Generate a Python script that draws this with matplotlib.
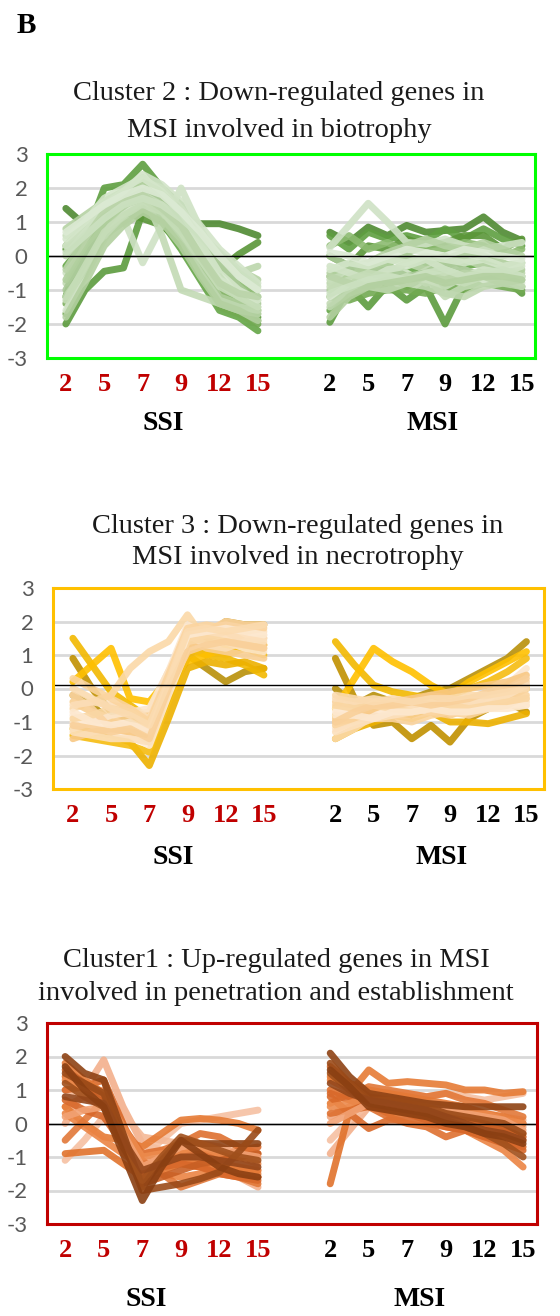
import matplotlib.pyplot as plt
import numpy as np

# sampling points along each infection series; only the day points are labelled
days = ['2', '', '5', '', '7', '', '9', '', '12', '', '15']
groups = ['SSI', 'MSI']

# ---- Cluster 2 : down-regulated in MSI, biotrophy (green) ----
c2_ssi = [
    [-2.0, -1.0, -0.45, -0.35, 1.3, 1.0, 0.3, -0.6, -1.2, -1.5, -1.8],
    [1.4, 0.9, 1.1, 1.5, 1.8, 1.4, 1.0, 0.95, 0.95, 0.8, 0.6],
    [-1.2, 0.5, 2.0, 2.1, 2.7, 2.0, 1.5, 0.4, -0.6, -1.3, -1.9],
    [-0.3, 0.4, 0.9, 1.2, 1.4, 1.0, 0.2, -0.7, -1.6, -1.8, -2.2],
    [0.2, 0.6, 1.0, 1.3, 1.1, 0.9, 0.4, -0.1, -0.4, 0.05, 0.4],
    [-1.4, -0.2, 1.2, 1.8, 2.3, 1.7, 0.8, -0.2, -1.0, -1.4, -1.6],
    [0.3, 0.9, 1.6, 1.9, 2.2, 1.8, 1.2, 0.3, -0.3, -0.8, -1.2],
    [-1.7, -0.5, 0.8, 1.4, 1.6, 1.2, 0.4, -0.6, -1.5, -1.7, -2.0],
    [-0.5, 0.2, 0.8, 1.1, -0.2, 0.9, 2.0, 0.8, -0.2, -0.6, -1.0],
    [-0.8, 0.0, 0.9, 1.4, 1.9, 0.6, -1.0, -1.2, -1.4, -1.6, -1.7],
    [0.8, 1.2, 1.6, 1.9, 2.2, 2.0, 1.4, 0.6, 0.1, -0.4, -0.7],
    [-1.6, -0.6, 0.5, 1.2, 1.6, 1.4, 0.9, 0.1, -0.7, -1.0, -1.3],
    [0.0, 0.7, 1.3, 1.7, 2.0, 1.7, 1.0, 0.3, -0.4, -0.5, -0.3],
    [-1.0, 0.0, 1.0, 1.6, 1.9, 1.6, 1.2, 0.5, -0.2, -0.9, -1.4],
    [0.6, 1.0, 1.4, 1.6, 1.8, 1.5, 0.8, 0.0, -0.8, -1.2, -1.5],
    [-0.7, 0.3, 1.0, 1.5, 1.7, 1.3, 0.6, -0.3, -1.2, -1.4, -1.7],
    [0.3, 0.8, 1.5, 1.9, 2.4, 2.1, 1.6, 0.9, 0.2, -0.3, -0.8],
    [-1.2, -0.4, 0.6, 1.0, 1.4, 1.1, 0.5, -0.5, -1.3, -1.5, -1.6],
    [-1.3, -0.3, 0.7, 1.2, 1.5, 1.3, 0.7, -0.1, -0.9, -1.2, -1.5],
    [0.5, 1.0, 1.7, 2.0, 2.3, 1.9, 1.3, 0.4, -0.5, -1.0, -1.3],
    [-0.4, 0.5, 1.3, 1.6, 1.8, 1.4, 0.9, 0.0, -0.8, -1.1, -1.2],
    [0.1, 0.6, 1.1, 1.5, 1.7, 1.5, 1.1, 0.6, 0.0, -0.5, -0.9],
    [-1.8, -0.8, 0.3, 0.9, 1.3, 1.0, 0.3, -0.6, -1.4, -1.6, -1.9],
    [0.7, 1.1, 1.5, 1.8, 2.0, 1.8, 1.3, 0.7, 0.0, -0.6, -1.0],
]
c2_msi = [
    [-1.95, -0.9, -1.5, -0.85, -1.3, -0.9, -2.0, -0.85, -0.8, -0.6, -1.1],
    [0.7, 0.4, 0.85, 0.6, 0.9, 0.7, 0.75, 0.8, 1.15, 0.7, 0.45],
    [0.6, 0.2, 0.7, 0.5, 0.6, 0.45, 0.8, 0.5, 0.8, 0.5, 0.3],
    [-1.6, -0.9, -0.4, -0.3, -0.5, -0.2, 0.0, -0.3, -0.2, -0.4, -0.6],
    [0.0, -0.3, 0.3, 0.2, 0.5, 0.3, 0.4, 0.6, 0.6, 0.2, 0.5],
    [-0.6, -0.4, -0.8, -0.5, -0.9, -0.6, -0.5, -0.7, -0.4, -0.5, -0.9],
    [0.3, 0.6, 0.2, 0.4, 0.1, 0.3, 0.2, 0.4, 0.3, 0.0, 0.2],
    [-1.2, -1.3, -1.1, -1.0, -1.0, -1.1, -0.9, -1.0, -0.8, -0.9, -1.0],
    [0.25, 0.9, 1.55, 1.0, 0.4, 0.35, 0.5, 0.3, 0.2, 0.3, 0.4],
    [-1.4, -1.0, -0.6, -0.7, -0.8, -0.6, -1.2, -0.9, -0.8, -0.7, -0.9],
    [-0.5, -0.3, -0.2, 0.1, 0.3, 0.5, 0.3, 0.2, 0.4, 0.2, 0.0],
    [-1.2, -0.8, -0.9, -0.6, -0.5, -0.8, -0.6, -0.4, -0.7, -0.6, -0.8],
    [-0.8, -0.6, -0.4, -0.5, -0.2, -0.4, -0.3, -0.1, -0.3, -0.4, -0.5],
    [0.0, -0.3, -0.5, -0.3, -0.6, -0.5, -0.2, -0.4, -0.6, -0.3, -0.2],
    [-0.7, -0.5, -0.6, -0.8, -0.6, -0.7, -0.9, -0.6, -0.5, -0.7, -0.6],
    [-1.0, -0.6, -0.3, -0.2, 0.0, -0.2, -0.1, 0.1, 0.0, -0.2, -0.4],
    [-0.3, -0.5, -0.7, -0.4, -0.3, -0.1, -0.4, -0.6, -0.4, -0.5, -0.3],
    [-1.5, -1.1, -0.9, -1.0, -0.8, -0.9, -1.1, -1.2, -0.9, -0.8, -0.9],
    [-0.9, -0.7, -0.5, -0.6, -0.7, -0.5, -0.6, -0.8, -0.6, -0.5, -0.7],
    [-0.4, -0.2, -0.3, -0.1, -0.2, 0.0, -0.1, -0.2, -0.1, -0.3, -0.2],
    [-0.6, -0.8, -0.9, -0.7, -0.8, -0.6, -0.7, -0.5, -0.6, -0.8, -0.7],
    [-1.1, -0.9, -0.7, -0.6, -0.7, -0.5, -0.4, -0.6, -0.5, -0.4, -0.6],
    [-1.8, -1.2, -0.9, -0.8, -0.7, -0.6, -0.8, -0.7, -0.6, -0.6, -0.7],
    [0.1, 0.0, -0.2, 0.0, 0.2, 0.1, 0.0, 0.2, 0.1, 0.0, -0.1],
]

# ---- Cluster 3 : down-regulated in MSI, necrotrophy (gold) ----
c3_ssi = [
    [0.9, 0.0, -0.7, -0.9, -1.3, -0.2, 0.9, 1.6, 2.0, 1.9, 1.9],
    [-0.2, -0.5, -1.0, -1.2, -1.6, -0.3, 1.0, 0.6, 0.2, 0.5, 0.6],
    [1.5, 0.7, -0.1, -0.5, -0.9, 0.1, 1.2, 1.0, 0.9, 0.7, 0.4],
    [0.2, 0.7, 1.2, -0.3, -0.4, 0.3, 0.8, 1.0, 1.2, 1.3, 1.3],
    [-1.2, -1.3, -1.4, -1.6, -2.3, -0.9, 0.6, 0.8, 0.7, 0.8, 0.6],
    [-1.4, -1.5, -1.6, -1.7, -1.9, -0.4, 1.0, 1.2, 1.0, 1.2, 1.0],
    [-0.6, -0.4, -0.2, 0.6, 1.1, 1.4, 2.2, 1.4, 1.6, 1.6, 1.5],
    [-1.0, -0.9, -1.0, -1.1, -1.2, 0.3, 1.7, 1.8, 1.9, 1.8, 1.7],
    [-0.4, -0.7, -0.9, -0.8, -0.7, 0.5, 1.5, 1.2, 1.1, 1.0, 0.9],
    [-1.2, -1.0, -0.8, -0.7, -0.6, 0.5, 1.9, 1.6, 1.4, 1.2, 1.1],
    [-0.2, -0.6, -1.2, -1.3, -1.5, 0.1, 1.4, 1.7, 2.0, 1.9, 1.9],
    [-0.8, -1.1, -1.3, -1.4, -1.7, -0.2, 1.2, 1.4, 1.5, 1.6, 1.6],
    [-1.5, -1.3, -1.2, -1.3, -1.4, 0.0, 1.3, 1.5, 1.7, 1.4, 1.3],
    [-0.5, -0.4, -0.5, -0.6, -0.9, 0.3, 1.6, 1.3, 1.2, 1.4, 1.5],
    [0.3, 0.0, -0.3, -0.6, -1.0, 0.4, 1.8, 1.9, 1.8, 1.7, 1.8],
    [-1.3, -1.4, -1.5, -1.5, -1.6, -0.1, 1.5, 1.6, 1.6, 1.5, 1.4],
    [-0.9, -0.8, -0.6, -0.7, -1.1, 0.2, 1.4, 1.5, 1.4, 1.3, 1.2],
    [-0.7, -1.0, -1.1, -1.0, -1.3, 0.1, 1.6, 1.7, 1.8, 1.7, 1.6],
    [-1.1, -1.2, -1.3, -1.2, -1.5, 0.0, 1.1, 1.3, 1.4, 1.3, 1.2],
    [0.0, -0.3, -0.6, -0.8, -1.1, 0.2, 1.7, 1.8, 1.7, 1.8, 1.9],
]
c3_msi = [
    [0.9, -0.3, -1.1, -1.0, -1.5, -1.1, -1.6, -0.9, -0.6, -0.4, -0.7],
    [0.0, -0.5, -0.2, -0.4, -0.3, -0.1, 0.0, 0.3, 0.6, 0.9, 1.4],
    [1.4, 0.7, 0.1, -0.1, -0.2, -0.3, -0.4, -0.3, -0.2, -0.1, 0.0],
    [-0.6, 0.3, 1.2, 0.8, 0.5, 0.1, -0.2, 0.2, 0.5, 0.8, 1.1],
    [-1.5, -1.2, -1.0, -0.8, -0.9, -0.7, -1.0, -1.0, -1.05, -0.9, -0.75],
    [-0.8, -1.0, -0.7, -0.5, -0.3, -0.4, -0.2, 0.0, 0.2, 0.5, 0.9],
    [-1.5, -1.2, -0.8, -0.6, -0.7, -0.6, -0.4, -0.5, -0.3, -0.1, 0.2],
    [-0.6, -0.6, -0.7, -0.6, -0.5, -0.6, -0.7, -0.5, -0.4, -0.5, -0.4],
    [-0.9, -0.8, -0.7, -0.8, -0.8, -0.7, -0.8, -0.6, -0.5, -0.3, 0.0],
    [-1.2, -1.0, -0.8, -0.6, -0.5, -0.4, -0.6, -0.4, -0.3, 0.1, 0.6],
    [-0.4, -0.5, -0.6, -0.5, -0.4, -0.2, -0.3, -0.4, -0.2, -0.1, 0.1],
    [-0.7, -0.7, -0.6, -0.7, -0.6, -0.7, -0.6, -0.6, -0.6, -0.5, -0.5],
    [-1.0, -0.9, -0.6, -0.4, -0.3, -0.2, -0.1, 0.0, 0.1, 0.2, 0.4],
    [-0.3, -0.4, -0.3, -0.4, -0.6, -0.5, -0.4, -0.3, -0.5, -0.4, -0.3],
    [-1.1, -0.9, -0.9, -0.9, -1.0, -0.8, -0.7, -0.8, -0.6, -0.5, -0.2],
    [-1.3, -1.1, -0.9, -0.8, -0.7, -0.6, -0.5, -0.4, -0.3, -0.2, 0.1],
    [-0.5, -0.6, -0.5, -0.6, -0.7, -0.6, -0.5, -0.6, -0.5, -0.4, -0.3],
    [-0.8, -0.8, -0.9, -0.7, -0.7, -0.6, -0.7, -0.7, -0.6, -0.6, -0.5],
    [-1.0, -0.7, -0.5, -0.5, -0.4, -0.5, -0.4, -0.3, -0.1, 0.0, 0.3],
    [-0.2, -0.3, -0.4, -0.3, -0.4, -0.3, -0.3, -0.2, -0.2, -0.1, 0.0],
]

# ---- Cluster 1 : up-regulated in MSI, penetration (orange) ----
c1_ssi = [
    [0.0, 1.0, 1.9, 0.5, -0.6, -0.8, -1.1, -1.2, -1.4, -1.6, -1.9],
    [-1.1, -0.5, 0.2, -0.4, -1.0, -0.5, 0.0, 0.1, 0.2, 0.3, 0.4],
    [0.5, 0.8, 1.0, 0.0, -1.2, -1.1, -1.0, -1.2, -1.3, -1.5, -1.6],
    [1.0, 0.9, 0.7, 0.3, -0.4, -0.5, -0.6, -0.8, -1.0, -1.2, -1.4],
    [-0.9, -0.85, -0.8, -1.2, -1.6, -1.4, -1.2, -1.3, -1.4, -1.5, -1.6],
    [0.5, 0.0, -0.4, -0.5, -0.7, -0.3, 0.1, 0.15, 0.1, 0.0, -0.2],
    [1.0, 1.1, 1.3, 0.0, -1.6, -1.1, -0.8, -0.9, -1.0, -0.8, -0.7],
    [0.3, -0.1, -0.5, -0.9, -1.3, -1.5, -1.6, -1.5, -1.3, -1.4, -1.5],
    [1.4, 1.0, 0.6, -0.1, -0.9, -0.8, -0.6, -0.3, -0.4, -0.7, -0.9],
    [-0.5, 0.1, 0.7, -0.3, -1.1, -1.5, -1.9, -1.7, -1.5, -1.6, -1.8],
    [1.8, 1.3, 0.9, -0.2, -1.4, -1.2, -1.0, -1.1, -1.2, -1.3, -1.4],
    [0.7, 0.4, 0.2, -0.6, -1.5, -1.3, -1.2, -1.3, -1.5, -1.6, -1.7],
    [1.3, 1.1, 0.9, -0.1, -1.0, -0.9, -0.8, -0.7, -0.9, -1.0, -1.2],
    [1.6, 1.2, 0.8, -0.4, -1.8, -1.6, -1.4, -1.2, -1.1, -1.0, -0.9],
    [0.2, 0.4, 0.5, -0.3, -1.3, -1.0, -0.7, -0.6, -0.7, -0.9, -1.0],
    [2.0, 1.5, 1.3, -0.3, -1.9, -1.1, -0.5, -0.6, -0.6, -0.6, -0.6],
    [1.5, 1.2, 0.9, -0.5, -2.0, -1.9, -1.8, -1.65, -1.45, -0.85, -0.2],
    [1.2, 0.8, 0.5, -0.7, -1.7, -1.0, -0.4, -0.6, -0.8, -1.0, -1.1],
    [0.8, 0.7, 0.6, -0.5, -1.4, -1.2, -1.0, -1.0, -1.1, -1.2, -1.3],
    [1.7, 1.0, 0.5, -0.9, -2.3, -1.3, -0.5, -0.9, -1.3, -1.5, -1.6],
]
c1_msi = [
    [-0.9, -0.2, 0.5, 0.5, 0.6, 0.4, 0.3, 0.4, 0.3, 0.2, 0.1],
    [-0.5, 0.1, 0.6, 0.8, 0.9, 0.8, 0.9, 0.8, 0.7, 0.8, 0.9],
    [0.2, 0.5, 0.9, 0.7, 0.6, 0.5, 0.4, 0.3, 0.2, 0.0, -0.1],
    [1.0, 0.8, 0.6, 0.5, 0.5, 0.3, 0.2, 0.1, 0.0, -0.2, -0.4],
    [-1.8, 0.4, 0.6, 0.3, 0.3, 0.2, 0.1, 0.0, -0.1, -0.2, -0.3],
    [0.6, 0.9, 1.6, 1.2, 1.25, 1.2, 1.15, 1.0, 1.0, 0.9, 0.95],
    [0.8, 0.3, -0.15, 0.1, 0.1, 0.0, -0.1, -0.2, -0.3, -0.5, -0.7],
    [1.3, 1.0, 0.8, 0.6, 0.4, 0.2, 0.0, -0.2, -0.5, -0.8, -1.3],
    [0.3, 0.4, 0.5, 0.2, 0.0, -0.1, -0.4, -0.2, -0.4, -0.3, -0.5],
    [1.0, 0.8, 1.1, 1.0, 0.9, 0.8, 0.9, 0.7, 0.6, 0.4, 0.2],
    [1.4, 1.2, 1.0, 0.9, 0.8, 0.7, 0.6, 0.5, 0.3, 0.2, 0.0],
    [0.9, 0.7, 0.5, 0.4, 0.3, 0.1, -0.1, -0.2, -0.4, -0.6, -0.8],
    [0.5, 0.6, 0.8, 0.7, 0.6, 0.6, 0.5, 0.4, 0.3, 0.1, 0.0],
    [1.7, 1.2, 0.8, 0.7, 0.6, 0.4, 0.3, 0.2, 0.0, -0.2, -0.4],
    [0.0, 0.3, 0.6, 0.6, 0.5, 0.5, 0.4, 0.3, 0.2, 0.1, -0.2],
    [2.1, 1.4, 0.9, 0.8, 0.7, 0.6, 0.55, 0.5, 0.5, 0.5, 0.5],
    [1.8, 1.2, 0.7, 0.7, 0.6, 0.5, 0.3, 0.2, 0.1, 0.0, -0.3],
    [1.5, 1.0, 0.6, 0.5, 0.4, 0.3, 0.1, -0.1, -0.3, -0.6, -1.0],
    [1.2, 0.9, 0.7, 0.6, 0.5, 0.4, 0.2, 0.0, -0.2, -0.3, -0.5],
    [1.6, 1.1, 0.5, 0.4, 0.3, 0.2, 0.0, -0.1, -0.3, -0.4, -0.6],
]

# line colours (drawing order = list order)
c2_colors = ['#5C9B3E', '#4F8A32', '#5E9F40', '#64A546', '#5A9638',
             '#7DB05E', '#8CBB70', '#72AA52',
             '#CFE2C5', '#C2DAB4', '#B5D2A3', '#D9E8D0', '#BCD6AC',
             '#A9C997', '#C8DEBB', '#B0CF9D', '#D2E4C8', '#BFD8B0',
             '#C6DDB8', '#D4E6CA', '#BAD4A9', '#CCE1C1', '#B3D0A0', '#DCEAD4']
c3_colors = ['#C09000', '#B8900A', '#F2B800', '#FFC000', '#EDB100', '#F5BC10',
             '#FBD9A8', '#FDE3C0', '#F9CF93', '#FCE6CC', '#FAD3A0',
             '#FEEBD6', '#F8C884', '#FCDEB8', '#FBD49E',
             '#FCE0BC', '#FAD7A4', '#FDE8CF', '#F9D09A', '#FBDBB0']
c1_colors = ['#F3B08C', '#F6C0A2', '#F0A67E', '#F4B896',
             '#E0722C', '#E67B35', '#D9692A', '#EB8444', '#DE7030', '#E27838',
             '#E57A36', '#D8682A', '#EC8A4C', '#C85F24', '#F2A274',
             '#8E4214', '#9A4A18', '#A0501C', '#93461A', '#8A3F12']

W, H = 560, 1316
fig = plt.figure(figsize=(W / 100, H / 100), dpi=100)
fig.patch.set_facecolor('white')

serif = 'Liberation Serif'
msi_offset = 6.87
x_ssi = np.arange(len(days)) * 0.5
x_msi = x_ssi + msi_offset


def fx(px):
    return px / W


def fy(py):
    return 1 - py / H


def panel(box, xlim, ssi, msi, colors, edge, zero_y, title, title_x, title_y,
          lab_pos):
    l, r, t, b = box
    ax = fig.add_axes([fx(l), fy(b), (r - l) / W, (b - t) / H])
    for g in [-2, -1, 0, 1, 2]:
        ax.axhline(g, color='#D9D9D9', lw=2, zorder=1)
    for s, m, c in zip(ssi, msi, colors):
        for xs, ys in ((x_ssi, s), (x_msi, m)):
            ax.plot(xs, ys, color=c, lw=5, alpha=0.9, solid_joinstyle='round',
                    solid_capstyle='round', zorder=2)
    ax.axhline(zero_y, color='black', lw=1, zorder=5)
    ax.set_xlim(*xlim)
    ax.set_ylim(-3, 3)
    for sp in ax.spines.values():
        sp.set_color(edge)
        sp.set_linewidth(2.2)
        sp.set_zorder(6)
    ax.set_yticks([3, 2, 1, 0, -1, -2, -3])
    ax.set_yticklabels(['3', '2', '1', '0', '-1', '-2', '-3'],
                       family='Lato', fontsize=16, color='#595959')
    ticks = list(x_ssi[::2]) + list(x_msi[::2])
    labels = days[::2] * 2
    ax.set_xticks(ticks)
    ax.set_xticklabels(labels, family=serif, fontweight='bold', fontsize=19)
    for i, tl in enumerate(ax.get_xticklabels()):
        tl.set_color('#C00000' if i < 6 else 'black')
    ax.tick_params(axis='both', length=0)
    ax.tick_params(axis='x', pad=11)
    ax.tick_params(axis='y', pad=14)
    # title lines
    for line, yb in zip(title, title_y):
        fig.text(fx(title_x), fy(yb), line, family=serif, fontsize=20.5,
                 ha='center', va='baseline', color='#1a1a1a')
    # group names under the tick labels
    for name, (gx, gy) in zip(groups, lab_pos):
        fig.text(fx(gx), fy(gy), name, family=serif, fontweight='bold',
                 fontsize=20, ha='center', va='center', color='black')
    return ax


fig.text(fx(17), fy(33), 'B', family=serif, fontweight='bold', fontsize=21,
         ha='left', va='baseline')

panel((47, 535, 154, 358), (-0.49, 12.21), c2_ssi, c2_msi, c2_colors,
      '#00FF00', 0.0,
      ['Cluster 2 : Down-regulated genes in', 'MSI involved in biotrophy'],
      279, (100, 137), [(163, 423), (433, 423)])

panel((53, 544, 588, 789), (-0.52, 12.33), c3_ssi, c3_msi, c3_colors,
      '#FFC000', 0.1,
      ['Cluster 3 : Down-regulated genes in', 'MSI involved in necrotrophy'],
      298, (533, 564), [(173, 857), (442, 857)])

panel((47, 537, 1023, 1224), (-0.47, 12.23), c1_ssi, c1_msi, c1_colors,
      '#C00000', 0.0,
      ['Cluster1 : Up-regulated genes in MSI',
       'involved in penetration and establishment'],
      276, (967, 1000), [(146, 1299), (420, 1299)])

fig.savefig('out.png', dpi=100, facecolor='white')
